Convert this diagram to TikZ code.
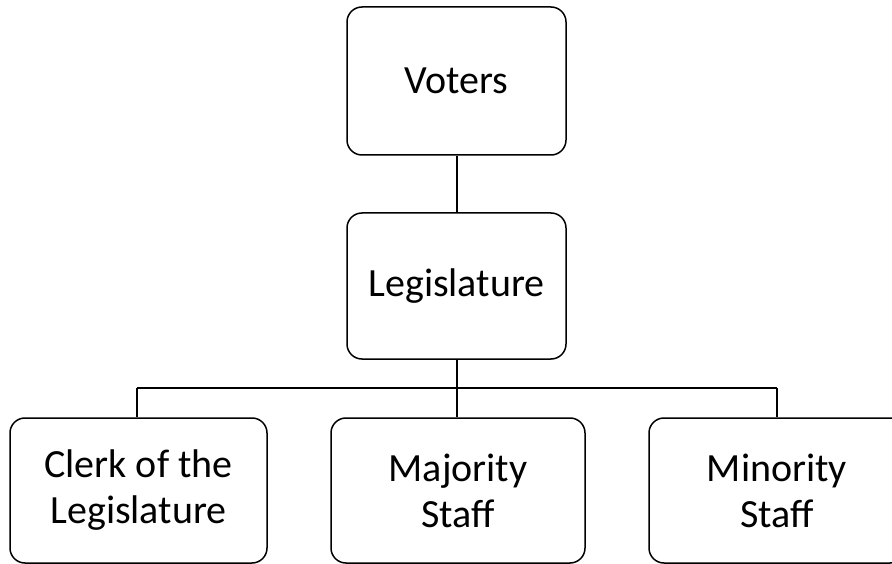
\documentclass[tikz,border=0pt]{standalone}
\usepackage{fontspec}
\setmainfont{Carlito}
\begin{document}
\begin{tikzpicture}[x=1pt,y=-1pt,
  orgbox/.style={draw, line width=1.5pt, rounded corners=15pt, fill=white,
    align=center, inner sep=0pt, font=\fontsize{40}{46}\selectfont},
  link/.style={line width=1.4pt}]
\clip (0,0) rectangle (892,564);
\useasboundingbox (0,0) rectangle (892,564);
\node[orgbox, minimum width=219pt, minimum height=148pt] (voters) at (456.5,81) {Voters};
\node[orgbox, minimum width=219pt, minimum height=146pt] (leg) at (456.5,286) {Legislature};
\node[orgbox, minimum width=257pt, minimum height=145pt] (clerk) at (138.5,490.5) {Clerk of the\\Legislature};
\node[orgbox, minimum width=254pt, minimum height=145pt] (major) at (458,490.5) {Majority\\Staff};
\node[orgbox, minimum width=256pt, minimum height=145pt] (minor) at (777,490.5) {Minority\\Staff};
\coordinate (bus) at (457,388);
\draw[link] (voters.south -| bus) -- (leg.north -| bus);
\draw[link] (leg.south -| bus) -- (bus);
\draw[link] (137,388) coordinate (busL) -- (777,388) coordinate (busR);
\draw[link] (busL) -- (clerk.north -| busL);
\draw[link] (bus) -- (major.north -| bus);
\draw[link] (busR) -- (minor.north -| busR);
\end{tikzpicture}
\end{document}
